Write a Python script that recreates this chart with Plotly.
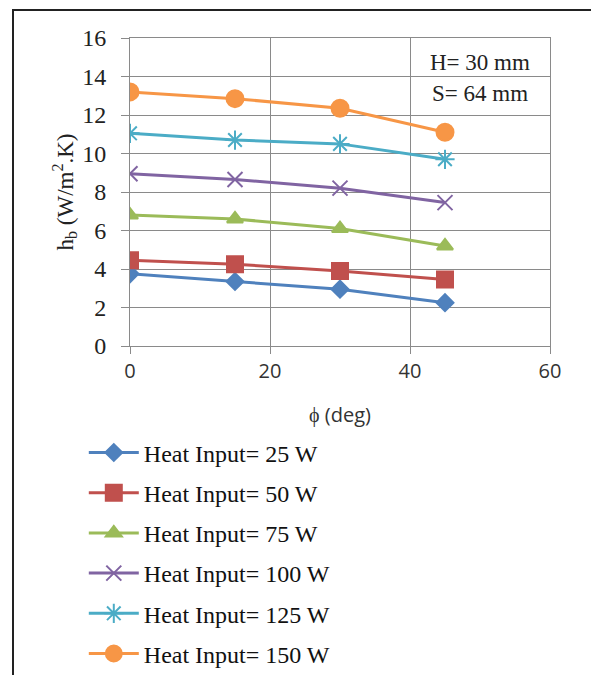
import plotly.graph_objects as go

phi = [0, 15, 30, 45]
q25 = [3.75, 3.35, 2.95, 2.25]
q50 = [4.45, 4.25, 3.9, 3.45]
q75 = [6.8, 6.6, 6.1, 5.2]
q100 = [8.95, 8.65, 8.2, 7.45]
q125 = [11.05, 10.7, 10.5, 9.7]
q150 = [13.2, 12.85, 12.35, 11.1]

names = ["Heat Input= 25 W", "Heat Input= 50 W", "Heat Input= 75 W",
         "Heat Input= 100 W", "Heat Input= 125 W", "Heat Input= 150 W"]
series = [q25, q50, q75, q100, q125, q150]
colors = ["#4F81BD", "#C0504D", "#9BBB59", "#8064A2", "#4BACC6", "#F79646"]
symbols = ["diamond", "square", "triangle-up", "x-thin-open", "asterisk-open", "circle"]
sizes = [13, 16, 14, 15, 16, 17]

fig = go.Figure()
for i, (n, s, c, sym, sz) in enumerate(zip(names, series, colors, symbols, sizes)):
    fig.add_trace(go.Scatter(
        x=phi, y=s, name=n, mode="lines+markers", legendgroup=f"g{i}",
        line=dict(color=c, width=3),
        marker=dict(symbol=sym, size=sz, color=c, line=dict(color=c, width=2)),
    ))

serif = "Liberation Serif"
sans = "Open Sans"
fig.update_layout(
    width=591, height=675,
    margin=dict(l=130, r=41, t=38, b=329, autoexpand=False),
    paper_bgcolor="white", plot_bgcolor="white",
    font=dict(family=serif, size=22, color="#222"),
    showlegend=True,
    legend=dict(x=-0.11, y=-0.274, xanchor="left", yanchor="top",
                font=dict(family=serif, size=24, color="#111"),
                tracegroupgap=6, itemwidth=50, bgcolor="rgba(0,0,0,0)"),
    xaxis=dict(range=[0, 60], tickvals=[0, 20, 40, 60], showgrid=True,
               gridcolor="#8a8a8a", gridwidth=1, showline=True, linecolor="#8a8a8a",
               mirror=True, ticks="outside", ticklen=7, tickcolor="#8a8a8a",
               zeroline=False, tickfont=dict(family=sans, size=20, color="#333"),
               title=dict(text="ϕ (deg)", font=dict(family=sans, size=20, color="#333"),
                          standoff=24)),
    yaxis=dict(range=[0, 16], tickvals=list(range(0, 17, 2)), showgrid=True,
               gridcolor="#8a8a8a", gridwidth=1, showline=True, linecolor="#8a8a8a",
               mirror=True, ticks="outside", ticklen=8, tickcolor="#8a8a8a",
               zeroline=False, tickfont=dict(family=serif, size=24, color="#222"),
               ticklabelstandoff=10,
               title=dict(text="h<sub>b</sub> (W/m<sup>2</sup>.K)",
                          font=dict(family=serif, size=23, color="#222"), standoff=2)),
    annotations=[
        dict(text="H= 30 mm", x=0.833, y=0.919, xref="paper", yref="paper",
             xanchor="center", yanchor="middle",
             showarrow=False, font=dict(family=serif, size=23, color="#222")),
        dict(text="S= 64 mm", x=0.833, y=0.821, xref="paper", yref="paper",
             xanchor="center", yanchor="middle",
             showarrow=False, font=dict(family=serif, size=23, color="#222")),
    ],
    shapes=[
        dict(type="rect", xref="paper", yref="paper",
             x0=(13 - 130) / 420, x1=(600 - 130) / 420,
             y0=(346 - 700) / 308, y1=(346 - 10) / 308,
             line=dict(color="#222", width=2), fillcolor="rgba(0,0,0,0)", layer="below"),
    ],
)

fig.write_html("out.html")
